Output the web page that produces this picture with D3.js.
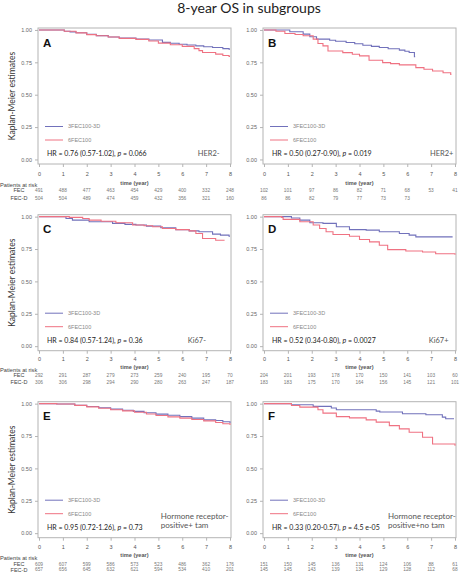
<!DOCTYPE html>
<html><head><meta charset="utf-8">
<script src="https://cdn.jsdelivr.net/npm/d3@7"></script>
<style>body{margin:0;background:#fff}</style></head>
<body><svg id="c" width="460" height="576"></svg>
<script>
// ---------- data ----------
const timeTicks = [0,1,2,3,4,5,6,7,8];
const survTicks = [0,0.25,0.5,0.75,1];
const panelLetters = ["A","B","C","D","E","F"];
const subgroupLabels = [["HER2-"],["HER2+"],["Ki67-"],["Ki67+"],["Hormone receptor-","positive+ tam"],["Hormone receptor-","positive+no tam"]];
const hrValues = ["0.76 (0.57-1.02)","0.50 (0.27-0.90)","0.84 (0.57-1.24)","0.52 (0.34-0.80)","0.95 (0.72-1.26)","0.33 (0.20-0.57)"];
const pValues = ["0.066","0.019","0.36","0.0027","0.73","4.5 e-05"];
const seriesNames = ["3FEC100-3D","6FEC100"];
const riskRowNames = ["FEC","FEC-D"];

const riskFEC = [
  [491,488,477,463,454,429,400,332,248],
  [102,101,97,86,82,71,68,53,41],
  [292,291,287,279,273,259,240,195,70],
  [204,201,193,178,170,150,141,103,60],
  [609,607,599,586,573,523,486,362,176],
  [151,150,145,136,131,124,106,88,61]
];
const riskFECD = [
  [504,504,489,474,459,432,356,321,160],
  [86,86,82,79,77,73,73],
  [306,306,298,294,290,280,263,247,187],
  [183,183,175,170,164,156,145,121,101],
  [657,656,645,632,621,594,534,410,201],
  [145,145,143,139,134,129,128,112,68]
];

// Kaplan-Meier step curves: [time (year), survival]
const curveA_FECD = [[0,1],[1.06,0.99],[1.3,0.985],[1.55,0.978],[2.0,0.966],[2.4,0.956],[2.9,0.946],[3.36,0.938],[4.06,0.93],[4.6,0.922],[5.17,0.904],[5.5,0.897],[5.87,0.89],[6.2,0.884],[6.57,0.877],[6.9,0.87],[7.27,0.864],[7.7,0.856],[7.96,0.851],[8.0,0.851]];
const curveA_FEC  = [[0,1],[1.06,0.99],[1.55,0.977],[2.0,0.964],[2.4,0.955],[2.9,0.945],[3.36,0.935],[4.06,0.927],[4.6,0.915],[5.0,0.898],[5.5,0.886],[6.0,0.873],[6.5,0.856],[6.7,0.84],[6.85,0.826],[7.4,0.813],[7.7,0.803],[7.96,0.795],[8.0,0.795]];
const curveB_FECD = [[0,1],[1.08,0.986],[1.64,0.968],[1.92,0.947],[2.2,0.929],[2.75,0.92],[3.0,0.913],[3.44,0.903],[3.8,0.893],[4.14,0.882],[4.5,0.873],[4.83,0.864],[5.2,0.855],[5.67,0.844],[5.9,0.836],[6.08,0.826],[6.3,0.794],[6.33,0.794]];
const curveB_FEC  = [[0,1],[0.5,0.99],[0.875,0.973],[1.3,0.965],[1.64,0.955],[2.06,0.929],[2.26,0.895],[2.47,0.877],[2.68,0.838],[3.3,0.825],[3.7,0.812],[4.0,0.80],[4.4,0.766],[4.97,0.748],[5.3,0.74],[5.67,0.73],[6.36,0.709],[6.7,0.697],[7.06,0.683],[7.5,0.67],[7.82,0.657],[7.85,0.657]];
const curveC_FECD = [[0,1],[1.13,0.986],[1.4,0.973],[2.1,0.96],[3.08,0.948],[3.6,0.94],[4.06,0.935],[4.5,0.927],[5.1,0.914],[5.73,0.90],[6.29,0.89],[6.7,0.883],[7.27,0.865],[7.6,0.857],[7.96,0.849],[8.0,0.849]];
const curveC_FEC  = [[0,1],[1.27,0.994],[1.83,0.986],[2.1,0.973],[2.6,0.965],[3.22,0.953],[3.92,0.935],[4.4,0.93],[4.76,0.922],[5.17,0.909],[5.73,0.90],[6.29,0.89],[6.57,0.87],[6.85,0.831],[7.4,0.818],[7.75,0.813]];
const curveD_FECD = [[0,1],[1.15,0.99],[1.5,0.973],[1.92,0.953],[2.47,0.948],[3.03,0.922],[3.58,0.90],[4.28,0.896],[4.83,0.883],[5.67,0.87],[6.08,0.857],[6.36,0.844],[7.9,0.844]];
const curveD_FEC  = [[0,1],[0.74,0.994],[0.8,0.979],[1.5,0.96],[2.06,0.935],[2.33,0.909],[2.6,0.883],[2.89,0.862],[3.58,0.849],[4.0,0.823],[4.42,0.805],[4.83,0.779],[5.18,0.745],[5.94,0.735],[6.64,0.727],[7.19,0.714],[8.0,0.706]];
const curveE_FECD = [[0,1],[0.74,0.997],[1.5,0.988],[2.0,0.978],[2.5,0.968],[3.0,0.958],[3.5,0.949],[3.95,0.94],[4.4,0.93],[4.9,0.919],[5.4,0.91],[5.9,0.90],[6.4,0.888],[6.9,0.875],[7.4,0.87],[7.7,0.86],[8.0,0.849]];
const curveE_FEC  = [[0,1],[0.74,0.997],[1.5,0.987],[2.0,0.975],[2.5,0.964],[3.0,0.953],[3.5,0.944],[4.0,0.934],[4.5,0.92],[4.9,0.908],[5.4,0.898],[5.9,0.888],[6.4,0.877],[6.9,0.867],[7.4,0.854],[7.7,0.845],[8.0,0.836]];
const curveF_FECD = [[0,1],[1.15,0.992],[2.06,0.979],[2.82,0.966],[3.03,0.953],[4.7,0.942],[4.85,0.935],[5.8,0.922],[6.78,0.914],[7.47,0.896],[7.61,0.883],[7.96,0.883]];
const curveF_FEC  = [[0,1],[1.15,0.986],[1.5,0.973],[2.26,0.953],[2.47,0.927],[3.03,0.90],[3.58,0.89],[4.28,0.875],[4.7,0.857],[5.25,0.83],[5.67,0.805],[6.08,0.779],[6.64,0.74],[7.06,0.688],[8.0,0.675]];

const curvesFECD = [curveA_FECD,curveB_FECD,curveC_FECD,curveD_FECD,curveE_FECD,curveF_FECD];
const curvesFEC  = [curveA_FEC,curveB_FEC,curveC_FEC,curveD_FEC,curveE_FEC,curveF_FEC];

// ---------- layout ----------
const colX0 = [39, 264];
const plotW = 191;
const rowTop = [28, 214.7, 401.7];
const boxH = 136;
const labelStartT = [6.65, 6.95, 6.23, 6.9, 5.1, 5.19];
const rowOff = [
  {tick:10.4, time:18.7, par:21, r1:26.5, r2:34.5},
  {tick:8.8, time:16.5, par:19.3, r1:24.8, r2:31.5},
  {tick:9.5, time:17, par:20.3, r1:26.2, r2:32}
];
const BLUE = "#7171bb", PINK = "#ef7282";
const FONT = "Lato, 'Open Sans', sans-serif";
const SMALL = "'Liberation Sans', Arial, sans-serif";

const svg = d3.select("#c");

svg.append("text").attr("x", 249).attr("y", 12.5).attr("text-anchor","middle")
  .attr("font-family", FONT).attr("font-size", 14).attr("fill","#222")
  .text("8-year OS in subgroups");

for (let i = 0; i < 6; i++) {
  const col = i % 2, row = Math.floor(i / 2);
  const x0 = colX0[col], top = rowTop[row];
  const x = d3.scaleLinear().domain([0, 8]).range([x0, x0 + plotW]);
  const y = d3.scaleLinear().domain([-0.035, 1.015]).range([top + boxH, top]);
  const g = svg.append("g");
  const bottom = top + boxH;
  const off = rowOff[row];

  // box
  g.append("rect").attr("x", x0 - 1).attr("y", top).attr("width", plotW + 2).attr("height", boxH)
    .attr("fill", "none").attr("stroke", "#b4b4b4").attr("stroke-width", 1);

  // axes
  const yAxis = d3.axisLeft(y).tickValues(survTicks).tickFormat(d3.format(".2f")).tickSize(3).tickPadding(3);
  const ya = g.append("g").attr("transform", `translate(${x0 - 1},0)`).call(yAxis);
  ya.select(".domain").remove();
  ya.selectAll("line").attr("stroke", "#b4b4b4");
  ya.selectAll("text").attr("font-family", SMALL).attr("font-size", 5.5).attr("fill", "#666");

  const xAxis = d3.axisBottom(x).tickValues(timeTicks).tickFormat(d3.format("d")).tickSize(3).tickPadding(0);
  const xa = g.append("g").attr("transform", `translate(0,${bottom})`).call(xAxis);
  xa.select(".domain").remove();
  xa.selectAll("line").attr("stroke", "#b4b4b4");
  xa.selectAll("text").attr("font-family", SMALL).attr("font-size", 5.5).attr("fill", "#555")
    .attr("y", off.tick).attr("dy", "0.35em");

  g.append("text").attr("x", x(4)).attr("y", bottom + off.time).attr("dy", "0.35em")
    .attr("text-anchor", "middle").attr("font-family", SMALL).attr("font-size", 5.6)
    .attr("font-weight", "bold").attr("fill", "#555").text("time (year)");

  // curves
  const line = d3.line().x(d => x(d[0])).y(d => y(d[1])).curve(d3.curveStepAfter);
  g.append("path").datum(curvesFECD[i]).attr("d", line).attr("fill", "none")
    .attr("stroke", BLUE).attr("stroke-width", 1.1);
  g.append("path").datum(curvesFEC[i]).attr("d", line).attr("fill", "none")
    .attr("stroke", PINK).attr("stroke-width", 1.1);

  // panel letter
  g.append("text").attr("x", x0 + 4).attr("y", top + 18.7).attr("font-family", SMALL)
    .attr("font-size", 11.5).attr("font-weight", "bold").attr("fill", "#111").text(panelLetters[i]);

  // legend
  const ly = [top + 98.5, top + 112];
  [BLUE, PINK].forEach((c, k) => {
    g.append("line").attr("x1", x0 + 6).attr("x2", x0 + 24).attr("y1", ly[k]).attr("y2", ly[k])
      .attr("stroke", c).attr("stroke-width", 1);
    g.append("text").attr("x", x0 + 29).attr("y", ly[k]).attr("dy", "0.35em")
      .attr("font-family", SMALL).attr("font-size", 5.5).attr("fill", "#888").text(seriesNames[k]);
  });

  // HR text
  const hr = g.append("text").attr("x", x0 + 8).attr("y", top + 128)
    .attr("font-family", FONT).attr("font-size", 7).attr("fill", "#222");
  hr.append("tspan").text("HR = " + hrValues[i] + ", ");
  hr.append("tspan").attr("font-style", "italic").text("p");
  hr.append("tspan").text(" = " + pValues[i]);

  // subgroup label
  const lab = subgroupLabels[i];
  if (lab.length === 1) {
    g.append("text").attr("x", x(labelStartT[i])).attr("y", top + 128)
      .attr("font-family", FONT).attr("font-size", 7.5).attr("fill", "#555").text(lab[0]);
  } else {
    lab.forEach((t, k) => {
      g.append("text").attr("x", x(labelStartT[i])).attr("y", top + 117.5 + k * 8.7)
        .attr("font-family", FONT).attr("font-size", 8).attr("fill", "#555").text(t);
    });
  }

  // at-risk table
  [riskFEC[i], riskFECD[i]].forEach((vals, k) => {
    const yy = bottom + (k === 0 ? off.r1 : off.r2);
    g.selectAll(null).data(vals).enter().append("text")
      .attr("x", (d, j) => x(timeTicks[j])).attr("y", yy).attr("dy", "0.35em")
      .attr("text-anchor", "middle").attr("font-family", SMALL).attr("font-size", 4.8)
      .attr("fill", "#777").text(d => d);
  });

  if (col === 0) {
    g.append("text").attr("x", 0).attr("y", bottom + off.par).attr("dy", "0.35em")
      .attr("font-family", SMALL).attr("font-size", 5.7).attr("fill", "#444").text("Patients at risk");
    riskRowNames.forEach((n, k) => {
      g.append("text").attr("x", 19).attr("y", bottom + (k === 0 ? off.r1 : off.r2)).attr("dy", "0.35em")
        .attr("text-anchor", "middle").attr("font-family", SMALL).attr("font-size", 5.5)
        .attr("fill", "#444").text(n);
    });
    g.append("text").attr("transform", `translate(14.5,${top + boxH / 2}) rotate(-90)`)
      .attr("text-anchor", "middle").attr("font-family", FONT).attr("font-size", 8.5)
      .attr("fill", "#333").text("Kaplan-Meier estimates");
  }
}
</script></body></html>
